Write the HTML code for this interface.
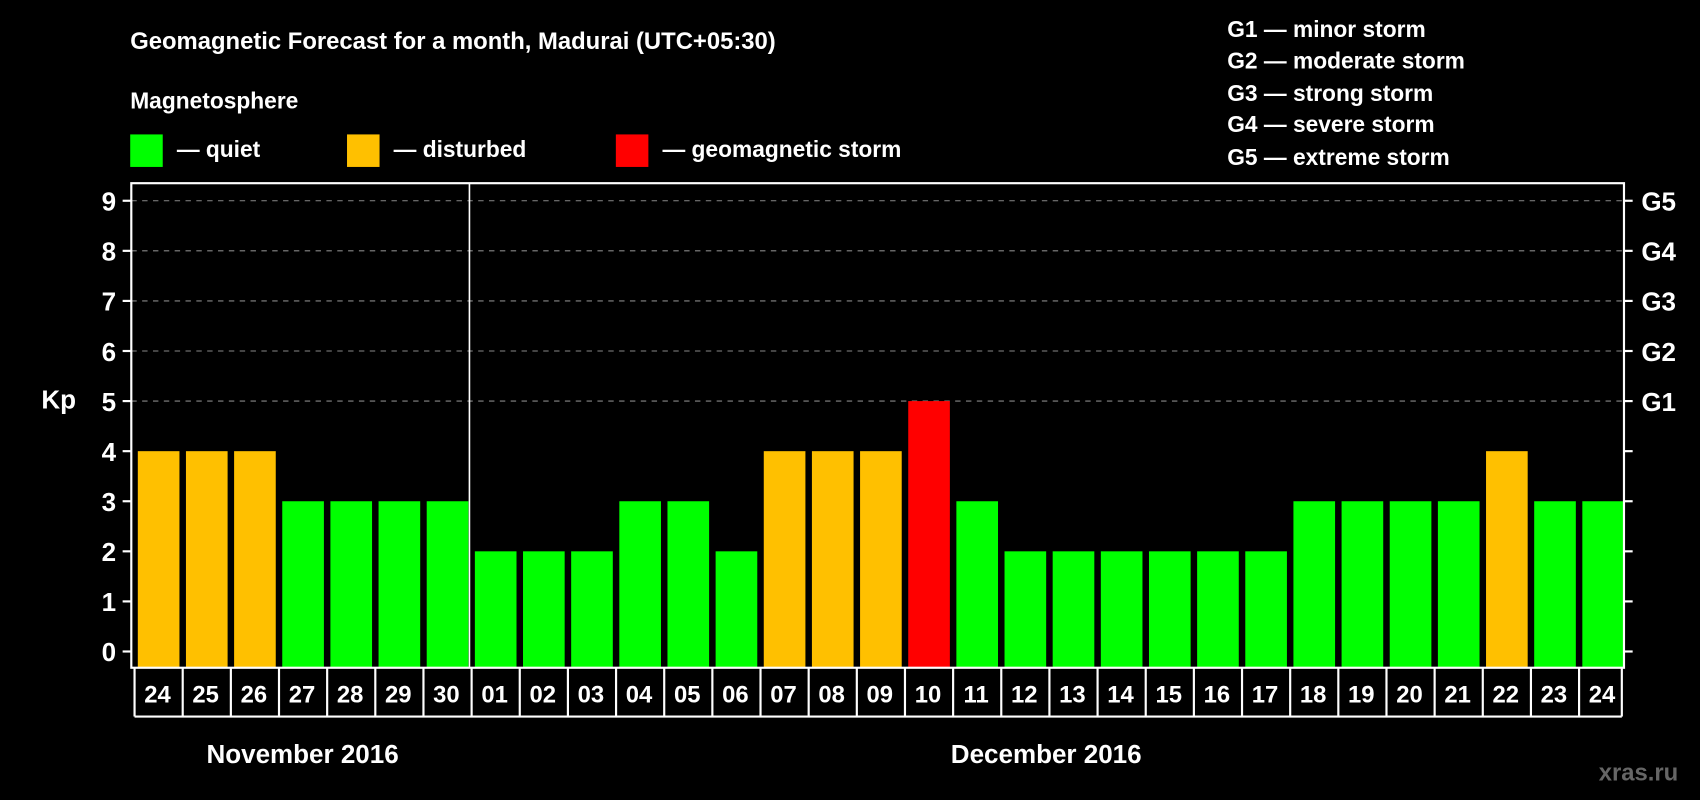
<!DOCTYPE html>
<html><head><meta charset="utf-8"><style>
html,body{margin:0;padding:0;background:#000;}
svg{display:block;}
text{font-family:"Liberation Sans",Arial,sans-serif;font-weight:bold;fill:#fff;}
</style></head><body>
<svg id="chart" width="1700" height="800" viewBox="0 0 1568 738" xmlns="http://www.w3.org/2000/svg">
<rect width="1568" height="738" fill="#000"/>
<text x="120" y="45" font-size="22">Geomagnetic Forecast for a month, Madurai (UTC+05:30)</text>
<text x="120" y="100" font-size="21">Magnetosphere</text>
<rect x="120" y="124" width="30" height="30" fill="#00ff00"/>
<text x="163" y="145" font-size="21">— quiet</text>
<rect x="320" y="124" width="30" height="30" fill="#ffc000"/>
<text x="363" y="145" font-size="21">— disturbed</text>
<rect x="568" y="124" width="30" height="30" fill="#ff0000"/>
<text x="611" y="145" font-size="21">— geomagnetic storm</text>
<g font-size="21">
<text x="1132" y="34">G1 — minor storm</text>
<text x="1132" y="63">G2 — moderate storm</text>
<text x="1132" y="93">G3 — strong storm</text>
<text x="1132" y="122">G4 — severe storm</text>
<text x="1132" y="152">G5 — extreme storm</text>
</g>
<text x="38" y="377" font-size="24">Kp</text>
<g id="plot"></g>
<text x="279" y="704" font-size="24" text-anchor="middle">November 2016</text>
<text x="965" y="704" font-size="24" text-anchor="middle">December 2016</text>
<text x="1548" y="720" font-size="22" text-anchor="end" fill="#666" style="fill:#666">xras.ru</text>
</svg>
<script>
const dates=["24","25","26","27","28","29","30","01","02","03","04","05","06","07","08","09","10","11","12","13","14","15","16","17","18","19","20","21","22","23","24"];
const kpValues=[4,4,4,3,3,3,3,2,2,2,3,3,2,4,4,4,5,3,2,2,2,2,2,2,3,3,3,3,4,3,3];
const yTicks=[0,1,2,3,4,5,6,7,8,9];
const gLabels=["G1","G2","G3","G4","G5"];
const gLevels=[5,6,7,8,9];
const NS="http://www.w3.org/2000/svg";
const L=121,R=1498,T=169,B=616;
const y=v=>601-v*46.2;
const step=(R-L)/dates.length;
const x=i=>L+i*step;
const plot=document.getElementById('plot');
function mk(tag,attrs,parent){const e=document.createElementNS(NS,tag);for(const k in attrs)e.setAttribute(k,attrs[k]);(parent||plot).appendChild(e);return e;}
const col=v=>v>=5?"#ff0000":v>=4?"#ffc000":"#00ff00";
gLevels.forEach(v=>{
 const g=mk('line',{x1:L,x2:R,y1:y(v),y2:y(v),stroke:'#888','stroke-width':1,'stroke-dasharray':'5,5'});
 
 
});
kpValues.forEach((v,i)=>{
 const b=mk('rect',{x:x(i)+6,y:y(v),width:step-6,height:y(0)-y(v)+15,fill:col(v)});
 
 
});
mk('rect',{x:L,y:T,width:R-L,height:B-T,fill:'none',stroke:'#fff','stroke-width':2});
const sep=mk('line',{x1:x(7)+1,x2:x(7)+1,y1:T,y2:B,stroke:'#fff','stroke-width':1.5});


yTicks.forEach(v=>{
 mk('line',{x1:L-8,x2:L,y1:y(v),y2:y(v),stroke:'#fff','stroke-width':2});
 mk('line',{x1:R,x2:R+8,y1:y(v),y2:y(v),stroke:'#fff','stroke-width':2});
 const t=mk('text',{x:L-14,y:y(v)+9,'font-size':24,'text-anchor':'end'});
 t.textContent=v;
 
 
});
gLabels.forEach((g,i)=>{
 const t=mk('text',{x:R+16,y:y(gLevels[i])+9,'font-size':24});
 t.textContent=g;
 
 
});
mk('line',{x1:124,x2:R-2,y1:661,y2:661,stroke:'#fff','stroke-width':2});
dates.forEach((d,i)=>{
 const bx=i===0?124:x(i)+3;
 mk('line',{x1:bx,x2:bx,y1:B,y2:661,stroke:'#fff','stroke-width':2});
 const t=mk('text',{x:x(i)+step/2+2,y:648,'font-size':22,'text-anchor':'middle'});
 t.textContent=d;
 
 
});
mk('line',{x1:R-2,x2:R-2,y1:B,y2:661,stroke:'#fff','stroke-width':2});
</script>
</body></html>
